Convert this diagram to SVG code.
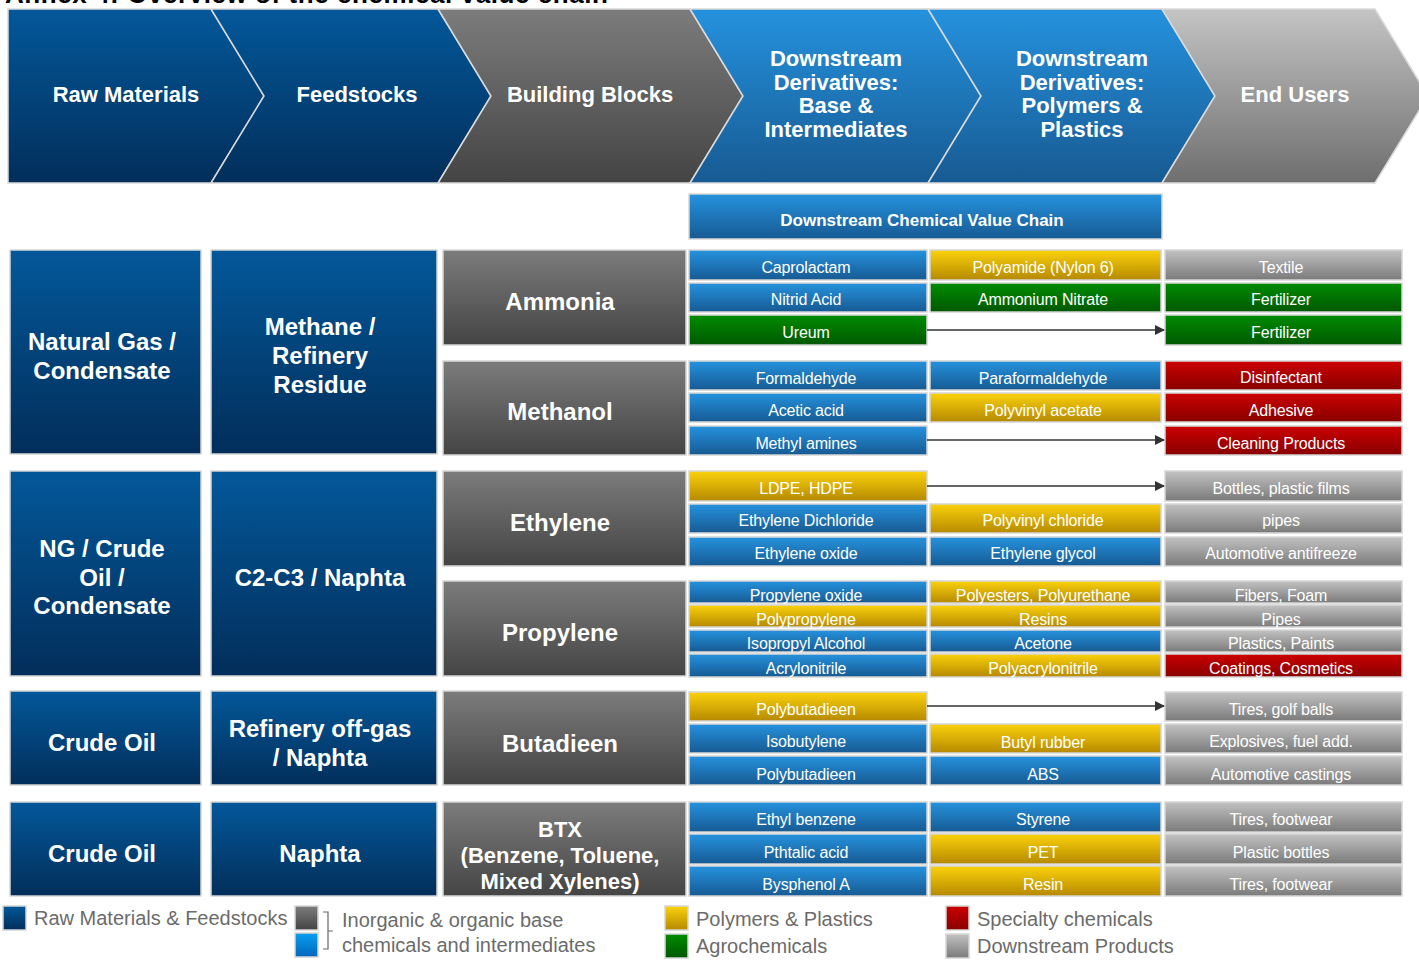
<svg xmlns="http://www.w3.org/2000/svg" width="1419" height="960" viewBox="0 0 1419 960">
<defs>
<linearGradient id="gDark" x1="0" y1="0" x2="0" y2="1"><stop offset="0" stop-color="#03589a"/><stop offset="1" stop-color="#022e5a"/></linearGradient>
<linearGradient id="gGray" x1="0" y1="0" x2="0" y2="1"><stop offset="0" stop-color="#7c7c7c"/><stop offset="1" stop-color="#444444"/></linearGradient>
<linearGradient id="gBlue" x1="0" y1="0" x2="0" y2="1"><stop offset="0" stop-color="#2592de"/><stop offset="1" stop-color="#175a92"/></linearGradient>
<linearGradient id="gLight" x1="0" y1="0" x2="0" y2="1"><stop offset="0" stop-color="#c4c4c4"/><stop offset="1" stop-color="#6e6e6e"/></linearGradient>
<linearGradient id="gLightCell" x1="0" y1="0" x2="0" y2="1"><stop offset="0" stop-color="#c2c2c2"/><stop offset="1" stop-color="#7a7a7a"/></linearGradient>
<linearGradient id="gYel" x1="0" y1="0" x2="0" y2="1"><stop offset="0" stop-color="#fbd20c"/><stop offset="1" stop-color="#b58900"/></linearGradient>
<linearGradient id="gGrn" x1="0" y1="0" x2="0" y2="1"><stop offset="0" stop-color="#008c00"/><stop offset="1" stop-color="#005800"/></linearGradient>
<linearGradient id="gRed" x1="0" y1="0" x2="0" y2="1"><stop offset="0" stop-color="#cc0000"/><stop offset="1" stop-color="#880000"/></linearGradient>
<linearGradient id="gLegBlue" x1="0" y1="0" x2="0" y2="1"><stop offset="0" stop-color="#0aa0f0"/><stop offset="1" stop-color="#0066bb"/></linearGradient>
<marker id="arr" markerWidth="10" markerHeight="10" refX="9" refY="5" orient="auto" markerUnits="userSpaceOnUse"><path d="M0,0 L10,5 L0,10 Z" fill="#333"/></marker>
<style>
.chev{stroke:#dadada;stroke-width:1.5}
.cell{stroke:#d6d6d6;stroke-width:1.5}
.dark{fill:url(#gDark)}
.gray{fill:url(#gGray)}
.blu{fill:url(#gBlue)}
.lgt{fill:url(#gLightCell)}
.yel{fill:url(#gYel)}
.grn{fill:url(#gGrn)}
.red{fill:url(#gRed)}
text{font-family:"Liberation Sans",Arial,sans-serif;fill:#fff;text-anchor:middle}
.hd{font-size:22px;font-weight:bold}
.big{font-size:24px;font-weight:bold}
.sm{font-size:16px;letter-spacing:-0.15px}
.leg{font-size:20px;fill:#6b6b6b;text-anchor:start}
.conn{stroke:#333;stroke-width:1.5;fill:none}
</style>
</defs>
<rect width="1419" height="960" fill="#fff"/>
<text x="5" y="3" style="font-size:26px;font-weight:bold;fill:#000;text-anchor:start" textLength="603">Annex 4: Overview of the chemical value chain</text>

<g id="chevrons">
<g id="h-raw"><path class="chev" fill="url(#gDark)" d="M8,9 L211,9 L264,96 L211,183 L8,183 Z"/><text class="hd" x="126" y="102">Raw Materials</text></g>
<g id="h-feed"><path class="chev" fill="url(#gDark)" d="M211,9 L438,9 L491,96 L438,183 L211,183 L264,96 Z"/><text class="hd" x="357" y="102">Feedstocks</text></g>
<g id="h-build"><path class="chev" fill="url(#gGray)" d="M438,9 L690,9 L743,96 L690,183 L438,183 L491,96 Z"/><text class="hd" x="590" y="102">Building Blocks</text></g>
<g id="h-base"><path class="chev" fill="url(#gBlue)" d="M690,9 L928,9 L981,96 L928,183 L690,183 L743,96 Z"/><text class="hd" x="836" y="66">Downstream</text><text class="hd" x="836" y="90">Derivatives:</text><text class="hd" x="836" y="113">Base &amp;</text><text class="hd" x="836" y="137">Intermediates</text></g>
<g id="h-poly"><path class="chev" fill="url(#gBlue)" d="M928,9 L1162,9 L1215,96 L1162,183 L928,183 L981,96 Z"/><text class="hd" x="1082" y="66">Downstream</text><text class="hd" x="1082" y="90">Derivatives:</text><text class="hd" x="1082" y="113">Polymers &amp;</text><text class="hd" x="1082" y="137">Plastics</text></g>
<g id="h-end"><path class="chev" fill="url(#gLight)" d="M1162,9 L1375,9 L1428,96 L1375,183 L1162,183 L1215,96 Z"/><text class="hd" x="1295" y="102">End Users</text></g>
</g>

<g id="dcvc"><rect class="cell blu" x="689" y="194" width="473" height="45"/><text x="922" y="226" style="font-size:17px;font-weight:bold">Downstream Chemical Value Chain</text></g>

<!-- Group 1 -->
<g id="rm1"><rect class="cell dark" x="10" y="250" width="191" height="204"/><text class="big" x="102" y="350">Natural Gas /</text><text class="big" x="102" y="379">Condensate</text></g>
<g id="fs1"><rect class="cell dark" x="211" y="250" width="226" height="204"/><text class="big" x="320" y="335">Methane /</text><text class="big" x="320" y="364">Refinery</text><text class="big" x="320" y="393">Residue</text></g>
<g id="bb-ammonia"><rect class="cell gray" x="443" y="250" width="243" height="95"/><text class="big" x="560" y="310">Ammonia</text></g>
<g id="bb-methanol"><rect class="cell gray" x="443" y="361" width="243" height="94"/><text class="big" x="560" y="420">Methanol</text></g>

<g id="n-caprolactam"><rect class="cell blu" x="689" y="250" width="238" height="30"/><text class="sm" x="806" y="273">Caprolactam</text></g>
<g id="n-nitrid"><rect class="cell blu" x="689" y="283" width="238" height="29"/><text class="sm" x="806" y="305">Nitrid Acid</text></g>
<g id="n-ureum"><rect class="cell grn" x="689" y="315" width="238" height="30"/><text class="sm" x="806" y="338">Ureum</text></g>
<g id="n-polyamide"><rect class="cell yel" x="930" y="250" width="231" height="30"/><text class="sm" x="1043" y="273">Polyamide  (Nylon 6)</text></g>
<g id="n-ammnitrate"><rect class="cell grn" x="930" y="283" width="231" height="29"/><text class="sm" x="1043" y="305">Ammonium Nitrate</text></g>
<g id="n-textile"><rect class="cell lgt" x="1165" y="250" width="237" height="30"/><text class="sm" x="1281" y="273">Textile</text></g>
<g id="n-fert1"><rect class="cell grn" x="1165" y="283" width="237" height="29"/><text class="sm" x="1281" y="305">Fertilizer</text></g>
<g id="n-fert2"><rect class="cell grn" x="1165" y="315" width="237" height="30"/><text class="sm" x="1281" y="338">Fertilizer</text></g>

<g id="n-formaldehyde"><rect class="cell blu" x="689" y="361" width="238" height="29"/><text class="sm" x="806" y="384">Formaldehyde</text></g>
<g id="n-acetic"><rect class="cell blu" x="689" y="393" width="238" height="29"/><text class="sm" x="806" y="416">Acetic acid</text></g>
<g id="n-methylamines"><rect class="cell blu" x="689" y="426" width="238" height="29"/><text class="sm" x="806" y="449">Methyl amines</text></g>
<g id="n-paraform"><rect class="cell blu" x="930" y="361" width="231" height="29"/><text class="sm" x="1043" y="384">Paraformaldehyde</text></g>
<g id="n-pva"><rect class="cell yel" x="930" y="393" width="231" height="29"/><text class="sm" x="1043" y="416">Polyvinyl acetate</text></g>
<g id="n-disinf"><rect class="cell red" x="1165" y="361" width="237" height="29"/><text class="sm" x="1281" y="383">Disinfectant</text></g>
<g id="n-adhesive"><rect class="cell red" x="1165" y="393" width="237" height="29"/><text class="sm" x="1281" y="416">Adhesive</text></g>
<g id="n-cleaning"><rect class="cell red" x="1165" y="426" width="237" height="29"/><text class="sm" x="1281" y="449">Cleaning Products</text></g>

<!-- Group 2 -->
<g id="rm2"><rect class="cell dark" x="10" y="471" width="191" height="205"/><text class="big" x="102" y="557">NG / Crude</text><text class="big" x="102" y="586">Oil /</text><text class="big" x="102" y="614">Condensate</text></g>
<g id="fs2"><rect class="cell dark" x="211" y="471" width="226" height="205"/><text class="big" x="320" y="586">C2-C3 / Naphta</text></g>
<g id="bb-ethylene"><rect class="cell gray" x="443" y="471" width="243" height="95"/><text class="big" x="560" y="531">Ethylene</text></g>
<g id="bb-propylene"><rect class="cell gray" x="443" y="581" width="243" height="95"/><text class="big" x="560" y="641">Propylene</text></g>

<g id="n-ldpe"><rect class="cell yel" x="689" y="471" width="238" height="30"/><text class="sm" x="806" y="494">LDPE,  HDPE</text></g>
<g id="n-edc"><rect class="cell blu" x="689" y="504" width="238" height="29"/><text class="sm" x="806" y="526">Ethylene Dichloride</text></g>
<g id="n-eo"><rect class="cell blu" x="689" y="537" width="238" height="29"/><text class="sm" x="806" y="559">Ethylene oxide</text></g>
<g id="n-pvc"><rect class="cell yel" x="930" y="504" width="231" height="29"/><text class="sm" x="1043" y="526">Polyvinyl chloride</text></g>
<g id="n-eg"><rect class="cell blu" x="930" y="537" width="231" height="29"/><text class="sm" x="1043" y="559">Ethylene glycol</text></g>
<g id="n-bottles"><rect class="cell lgt" x="1165" y="471" width="237" height="30"/><text class="sm" x="1281" y="494">Bottles, plastic films</text></g>
<g id="n-pipes1"><rect class="cell lgt" x="1165" y="504" width="237" height="29"/><text class="sm" x="1281" y="526">pipes</text></g>
<g id="n-antifreeze"><rect class="cell lgt" x="1165" y="537" width="237" height="29"/><text class="sm" x="1281" y="559">Automotive antifreeze</text></g>

<g id="n-po"><rect class="cell blu" x="689" y="581" width="238" height="22"/><text class="sm" x="806" y="601">Propylene oxide</text></g>
<g id="n-pp"><rect class="cell yel" x="689" y="605" width="238" height="22"/><text class="sm" x="806" y="625">Polypropylene</text></g>
<g id="n-ipa"><rect class="cell blu" x="689" y="630" width="238" height="22"/><text class="sm" x="806" y="649">Isopropyl Alcohol</text></g>
<g id="n-acn"><rect class="cell blu" x="689" y="654" width="238" height="23"/><text class="sm" x="806" y="674">Acrylonitrile</text></g>
<g id="n-pes"><rect class="cell yel" x="930" y="581" width="231" height="22"/><text class="sm" x="1043" y="601">Polyesters, Polyurethane</text></g>
<g id="n-resins"><rect class="cell yel" x="930" y="605" width="231" height="22"/><text class="sm" x="1043" y="625">Resins</text></g>
<g id="n-acetone"><rect class="cell blu" x="930" y="630" width="231" height="22"/><text class="sm" x="1043" y="649">Acetone</text></g>
<g id="n-pan"><rect class="cell yel" x="930" y="654" width="231" height="23"/><text class="sm" x="1043" y="674">Polyacrylonitrile</text></g>
<g id="n-fibers"><rect class="cell lgt" x="1165" y="581" width="237" height="22"/><text class="sm" x="1281" y="601">Fibers, Foam</text></g>
<g id="n-pipes2"><rect class="cell lgt" x="1165" y="605" width="237" height="22"/><text class="sm" x="1281" y="625">Pipes</text></g>
<g id="n-plastics"><rect class="cell lgt" x="1165" y="630" width="237" height="22"/><text class="sm" x="1281" y="649">Plastics, Paints</text></g>
<g id="n-coatings"><rect class="cell red" x="1165" y="654" width="237" height="23"/><text class="sm" x="1281" y="674">Coatings, Cosmetics</text></g>

<!-- Group 3 -->
<g id="rm3"><rect class="cell dark" x="10" y="691" width="191" height="94"/><text class="big" x="102" y="751">Crude Oil</text></g>
<g id="fs3"><rect class="cell dark" x="211" y="691" width="226" height="94"/><text class="big" x="320" y="737">Refinery off-gas</text><text class="big" x="320" y="766">/ Naphta</text></g>
<g id="bb-butadieen"><rect class="cell gray" x="443" y="691" width="243" height="94"/><text class="big" x="560" y="752">Butadieen</text></g>
<g id="n-pbd1"><rect class="cell yel" x="689" y="692" width="238" height="29"/><text class="sm" x="806" y="715">Polybutadieen</text></g>
<g id="n-isobutylene"><rect class="cell blu" x="689" y="724" width="238" height="29"/><text class="sm" x="806" y="747">Isobutylene</text></g>
<g id="n-pbd2"><rect class="cell blu" x="689" y="756" width="238" height="29"/><text class="sm" x="806" y="780">Polybutadieen</text></g>
<g id="n-butyl"><rect class="cell yel" x="930" y="724" width="231" height="29"/><text class="sm" x="1043" y="748">Butyl rubber</text></g>
<g id="n-abs"><rect class="cell blu" x="930" y="756" width="231" height="29"/><text class="sm" x="1043" y="780">ABS</text></g>
<g id="n-tires1"><rect class="cell lgt" x="1165" y="692" width="237" height="29"/><text class="sm" x="1281" y="715">Tires, golf balls</text></g>
<g id="n-explosives"><rect class="cell lgt" x="1165" y="724" width="237" height="29"/><text class="sm" x="1281" y="747">Explosives, fuel add.</text></g>
<g id="n-castings"><rect class="cell lgt" x="1165" y="756" width="237" height="29"/><text class="sm" x="1281" y="780">Automotive castings</text></g>

<!-- Group 4 -->
<g id="rm4"><rect class="cell dark" x="10" y="802" width="191" height="94"/><text class="big" x="102" y="862">Crude Oil</text></g>
<g id="fs4"><rect class="cell dark" x="211" y="802" width="226" height="94"/><text class="big" x="320" y="862">Naphta</text></g>
<g id="bb-btx"><rect class="cell gray" x="443" y="802" width="243" height="94"/><text class="hd" x="560" y="837">BTX</text><text class="hd" x="560" y="863">(Benzene, Toluene,</text><text class="hd" x="560" y="889">Mixed Xylenes)</text></g>
<g id="n-ethylbenzene"><rect class="cell blu" x="689" y="802" width="238" height="30"/><text class="sm" x="806" y="825">Ethyl benzene</text></g>
<g id="n-pthtalic"><rect class="cell blu" x="689" y="834" width="238" height="30"/><text class="sm" x="806" y="858">Pthtalic acid</text></g>
<g id="n-bysphenol"><rect class="cell blu" x="689" y="866" width="238" height="30"/><text class="sm" x="806" y="890">Bysphenol A</text></g>
<g id="n-styrene"><rect class="cell blu" x="930" y="802" width="231" height="30"/><text class="sm" x="1043" y="825">Styrene</text></g>
<g id="n-pet"><rect class="cell yel" x="930" y="834" width="231" height="30"/><text class="sm" x="1043" y="858">PET</text></g>
<g id="n-resin"><rect class="cell yel" x="930" y="866" width="231" height="30"/><text class="sm" x="1043" y="890">Resin</text></g>
<g id="n-tires2"><rect class="cell lgt" x="1165" y="802" width="237" height="30"/><text class="sm" x="1281" y="825">Tires, footwear</text></g>
<g id="n-plbottles"><rect class="cell lgt" x="1165" y="834" width="237" height="30"/><text class="sm" x="1281" y="858">Plastic bottles</text></g>
<g id="n-tires3"><rect class="cell lgt" x="1165" y="866" width="237" height="30"/><text class="sm" x="1281" y="890">Tires, footwear</text></g>

<g id="connectors">
<line class="conn" x1="927" y1="330" x2="1164" y2="330" marker-end="url(#arr)"/>
<line class="conn" x1="927" y1="440" x2="1164" y2="440" marker-end="url(#arr)"/>
<line class="conn" x1="927" y1="486" x2="1164" y2="486" marker-end="url(#arr)"/>
<line class="conn" x1="927" y1="706" x2="1164" y2="706" marker-end="url(#arr)"/>
</g>

<g id="legend">
<rect class="cell dark" x="3" y="906" width="23" height="24"/>
<text class="leg" x="34" y="925">Raw Materials  &amp; Feedstocks</text>
<rect class="cell gray" x="295" y="906" width="23" height="24"/>
<rect class="cell" fill="url(#gLegBlue)" x="295" y="933" width="23" height="24"/>
<path d="M323,912 H328 V949 H323 M328,931 H333" stroke="#666" stroke-width="1.2" fill="none"/>
<text class="leg" x="342" y="927">Inorganic  &amp; organic base</text>
<text class="leg" x="342" y="952">chemicals and intermediates</text>
<rect class="cell yel" x="665" y="906" width="23" height="24"/>
<rect class="cell grn" x="665" y="934" width="23" height="24"/>
<text class="leg" x="696" y="926">Polymers &amp; Plastics</text>
<text class="leg" x="696" y="953">Agrochemicals</text>
<rect class="cell red" x="946" y="906" width="23" height="24"/>
<rect class="cell lgt" x="946" y="934" width="23" height="24"/>
<text class="leg" x="977" y="926">Specialty chemicals</text>
<text class="leg" x="977" y="953">Downstream  Products</text>
</g>
</svg>
